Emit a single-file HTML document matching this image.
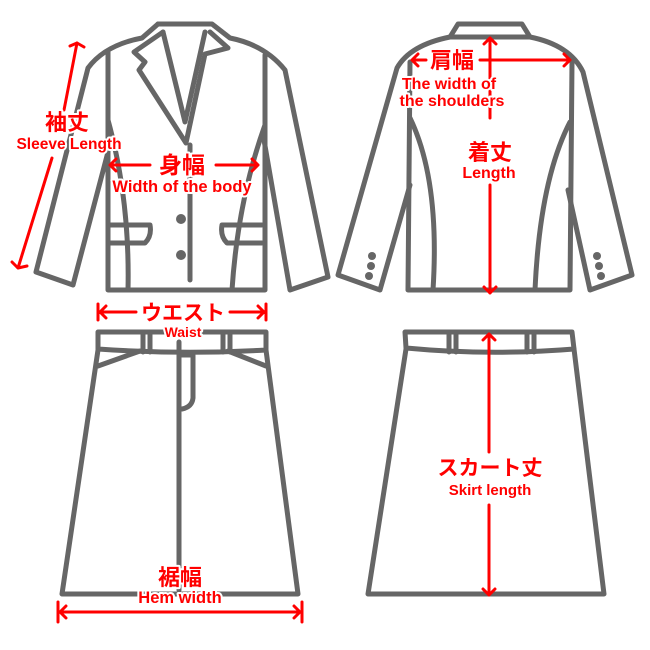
<!DOCTYPE html>
<html><head><meta charset="utf-8"><style>
html,body{margin:0;padding:0;background:#fff;}
svg{display:block;}
.g{fill:none;stroke:#666;stroke-width:5;stroke-linejoin:round;stroke-linecap:round;}
.r{fill:none;stroke:#f00;stroke-width:3;stroke-linecap:round;stroke-linejoin:round;}
.t{font-family:"Liberation Sans","Noto Sans CJK JP",sans-serif;fill:#f00;font-weight:bold;text-anchor:middle;stroke:#fff;stroke-width:4;paint-order:stroke;stroke-linejoin:round;}
.bg{fill:#fff;}
</style></head><body>
<svg width="650" height="650" viewBox="0 0 650 650" xmlns="http://www.w3.org/2000/svg">
<!-- LEFT JACKET -->
<g class="g">
<path d="M158,24 L212,24 L230,38 Q265,45 285,70 L328,277 L290,290 L264,140"/>
<path d="M158,24 L142,38 Q105,45 88,68 L36,272 L73,285 L108,152"/>
<path d="M108,52 L108,290 L265,290 L265,55"/>
<path d="M108,120 Q130,200 128,290"/>
<path d="M265,125 Q238,200 232,290"/>
<path d="M163,32 L134,52 L145,62 L139,70 L186,143 L205,54 L228,48 L210,32"/>
<path d="M163,32 L185,122 L205,32"/>
<path d="M190,145 L190,280"/>
<path d="M110,225 L150,225 Q152,236 145,243 L110,243"/>
<path d="M262,225 L222,225 Q220,236 227,243 L262,243"/>
</g>
<circle cx="181" cy="219" r="5" fill="#666"/>
<circle cx="181" cy="255" r="5" fill="#666"/>
<!-- RIGHT JACKET -->
<g class="g">
<path d="M458,24 L522,24 L530,37 L450,37 Z"/>
<path d="M450,37 Q410,45 397,68 L338,275 L380,290 L410,185"/>
<path d="M530,37 Q570,45 583,72 L632,275 L590,290 L568,190"/>
<path d="M410,62 L408,290 L570,290 L572,62"/>
<path d="M410,118 Q440,180 433,290"/>
<path d="M570,122 Q540,180 535,290"/>
</g>
<g fill="#666"><circle cx="372" cy="256" r="4"/><circle cx="371" cy="266" r="4"/><circle cx="369" cy="276" r="4"/>
<circle cx="597" cy="256" r="4"/><circle cx="599" cy="266" r="4"/><circle cx="601" cy="276" r="4"/></g>
<!-- LEFT SKIRT -->
<g class="g">
<path d="M98,332 L266,332 L266,350 Q183,355 98,349 Z"/>
<path d="M98,350 L62,594 L298,594 L266,350"/>
<path d="M98,366 L140,351"/><path d="M266,366 L228,351"/>
<path d="M143,334 L143,352 M150,334 L150,352 M223,334 L223,352 M230,334 L230,352"/>
<path d="M179,342 L179,590"/>
<path d="M181,355 L193,355 L193,398 Q192,407 182,409"/>
</g>
<!-- RIGHT SKIRT -->
<g class="g">
<path d="M405,332 L572,332 L574,349 Q490,356 406,348 Z"/>
<path d="M406,349 L368,594 L604,594 L574,349"/>
<path d="M449,334 L449,352 M456,334 L456,352 M527,334 L527,352 M534,334 L534,352"/>
</g>
<!-- RED ARROWS -->
<g class="r">
<path d="M77,43 L64,110 M52,158 L18,268"/>
<path d="M70,46 L77,43 L84,47 M12,262 L18,268 L27,266"/>
<path d="M110,165 L150,165 M216,165 L258,165 M116,159 L110,165 L116,171 M252,159 L258,165 L252,171"/>
<path d="M412,60 L426,60 M480,60 L570,60 M418,54 L412,60 L418,66 M564,54 L570,60 L564,66"/>
<path d="M490,38 L490,118 M490,185 L490,293 M484,44 L490,38 L496,44 M484,287 L490,293 L496,287"/>
<path d="M98,304 L98,320 M266,304 L266,320 M100,312 L136,312 M230,312 L264,312 M106,306 L100,312 L106,318 M258,306 L264,312 L258,318"/>
<path d="M58,602 L58,622 M302,602 L302,622 M60,612 L300,612 M66,606 L60,612 L66,618 M294,606 L300,612 L294,618"/>
<path d="M489,334 L489,452 M489,505 L489,595 M483,340 L489,334 L495,340 M483,589 L489,595 L495,589"/>
</g>
<!-- TEXT -->
<text class="t" x="67" y="130" font-size="22">袖丈</text>
<text class="t" x="69" y="149" font-size="15.5">Sleeve Length</text>
<text class="t" x="182" y="173" font-size="23">身幅</text>
<text class="t" x="182" y="192" font-size="16.5">Width of the body</text>
<text class="t" x="452" y="68" font-size="22">肩幅</text>
<text class="t" x="449" y="89" font-size="16">The width of</text>
<text class="t" x="452" y="106" font-size="16">the shoulders</text>
<text class="t" x="490" y="160" font-size="22">着丈</text>
<text class="t" x="489" y="178" font-size="16">Length</text>
<text class="t" x="183" y="320" font-size="21">ウエスト</text>
<text class="t" x="183" y="337" font-size="14">Waist</text>
<text class="t" x="180" y="585" font-size="22">裾幅</text>
<text class="t" x="180" y="603" font-size="16.5">Hem width</text>
<text class="t" x="490" y="475" font-size="21">スカート丈</text>
<text class="t" x="490" y="495" font-size="15">Skirt length</text>
</svg>
</body></html>
